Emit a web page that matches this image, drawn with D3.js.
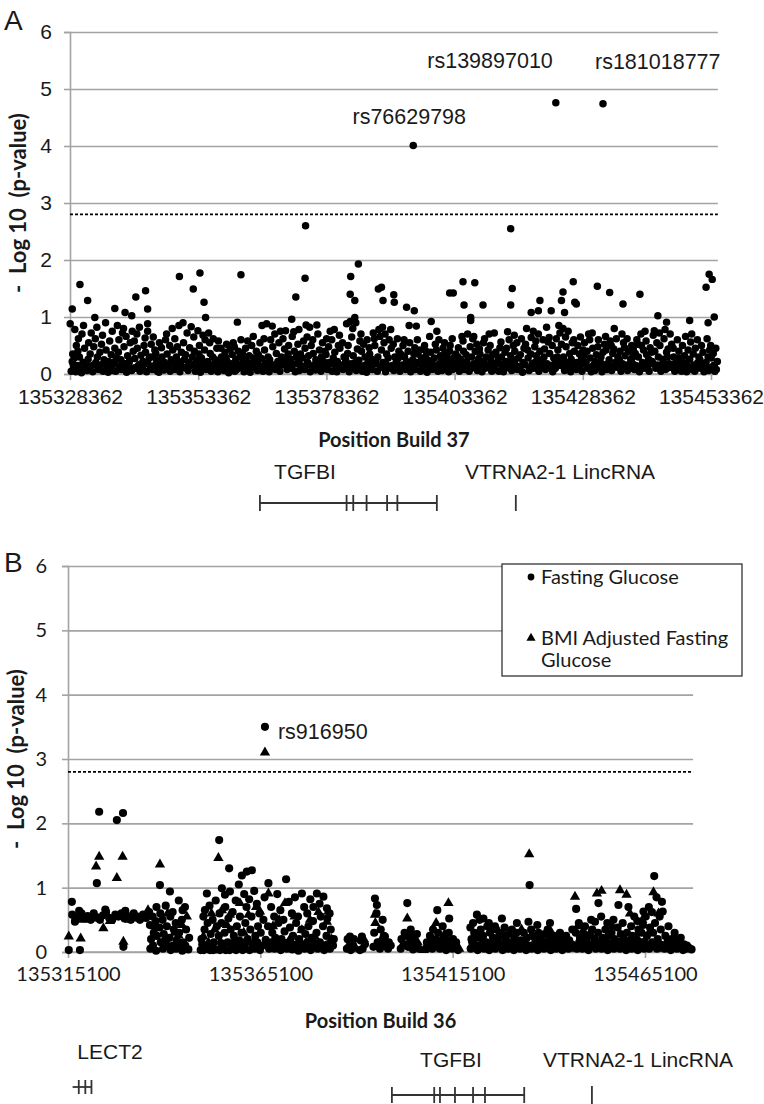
<!DOCTYPE html>
<html>
<head>
<meta charset="utf-8">
<script src="https://cdn.jsdelivr.net/npm/d3@7"></script>
<style>
  html, body { margin: 0; background: #fff; }
  #chart svg { display: block; }
</style>
</head>
<body>
<div id="chart"></div>
<script>
// ---- axis values ----
const ticksA = [135328362, 135353362, 135378362, 135403362, 135428362, 135453362];
const ticksB = [135315100, 135365100, 135415100, 135465100];
const yTicks = [0, 1, 2, 3, 4, 5, 6];
const thresholdLogP = 2.8;
const axisEndA = 135454700;
const axisEndB = 135477600;

// ---- panel A: [position (kb), -log10 p] ----
const snpsA = [
  [135328.6,0.05],[135328.8,0.22],[135328.4,0.88],[135328.9,0.35],[135329.1,0.12],
  [135329.3,0.78],[135329.5,0.04],[135329.2,0.28],[135329.6,0.5],[135329.8,0.15],[135330.0,0.62],[135329.9,0.4],
  [135330.3,1.57],[135330.4,0.08],[135330.2,0.3],[135330.7,0.7],[135330.9,0.2],[135330.6,0.02],
  [135331.2,0.45],[135331.4,0.1],[135331.0,0.85],[135331.8,1.29],[135331.9,0.26],[135331.7,0.06],[135332.0,0.55],
  [135332.3,0.35],[135332.5,0.72],[135332.2,0.14],[135332.8,0.04],[135333.0,0.48],
  [135333.2,0.99],[135333.4,0.2],[135333.3,0.62],[135333.7,0.3],[135333.9,0.08],[135333.6,0.82],
  [135334.3,0.16],[135334.5,0.52],[135334.2,0.38],[135334.8,0.05],[135335.0,0.25],[135334.7,0.68],
  [135335.4,0.42],[135335.6,0.12],[135335.3,0.9],[135335.9,0.22],[135336.1,0.58],[135335.8,0.03],
  [135336.4,0.34],[135336.6,0.75],[135336.3,0.1],[135336.9,0.18],[135337.1,0.45],[135336.8,0.06],
  [135328.8,1.14],[135337.1,1.15],
  [135337.4,0.28],[135337.6,0.85],[135337.3,0.05],[135337.9,0.6],[135338.1,0.14],[135337.8,0.38],
  [135338.4,0.08],[135338.6,0.72],[135338.3,0.25],[135338.9,0.48],[135339.1,0.18],[135338.8,0.8],
  [135339.4,0.03],[135339.6,0.32],[135339.3,0.66],[135339.9,0.2],[135340.1,0.55],[135339.8,0.12],
  [135340.5,0.75],[135340.7,0.4],[135340.4,0.06],[135341.0,0.27],[135341.2,0.1],[135340.9,0.58],
  [135341.5,0.45],[135341.7,0.15],[135341.4,0.7],[135342.0,0.05],[135342.2,0.33],[135341.9,0.82],
  [135342.6,0.22],[135342.8,0.5],[135342.5,0.1],[135343.1,0.38],[135343.3,0.04],[135343.0,0.63],
  [135343.6,0.18],[135343.8,0.28],[135343.5,0.75],[135344.2,0.52],[135344.4,0.08],[135344.1,0.3],
  [135344.7,0.12],[135344.9,0.42],[135344.6,0.65],[135345.2,0.25],[135345.4,0.05],[135345.1,0.36],
  [135345.8,0.55],[135346.0,0.16],[135345.7,0.03],[135346.3,0.3],[135346.5,0.1],[135346.2,0.46],
  [135346.8,0.2],[135347.0,0.6],[135346.7,0.07],
  [135339.1,1.08],[135340.4,1.02],[135341.2,1.35],[135343.1,1.46],[135343.5,1.14],[135343.5,0.88],
  [135347.3,0.35],[135347.5,0.12],[135347.2,0.7],[135347.9,0.05],[135348.1,0.25],[135347.8,0.5],
  [135348.4,0.42],[135348.6,0.18],[135348.3,0.8],[135348.9,0.08],[135349.1,0.3],[135348.8,0.62],
  [135349.4,0.22],[135349.6,0.85],[135349.3,0.48],[135349.9,0.14],[135350.1,0.38],[135349.8,0.04],
  [135350.5,0.55],[135350.7,0.26],[135350.4,0.9],[135351.0,0.1],[135351.2,0.72],[135350.9,0.34],
  [135351.5,0.2],[135351.7,0.46],[135351.4,0.06],[135352.0,0.83],[135352.2,0.3],[135351.9,0.15],
  [135352.6,0.4],[135352.8,0.05],[135352.5,0.65],[135353.1,0.24],[135353.3,0.76],[135353.0,0.12],
  [135353.6,0.5],[135353.8,0.03],[135353.5,0.35],[135354.1,0.17],[135354.3,0.68],[135354.0,0.28],
  [135354.7,0.6],[135354.9,0.08],[135354.6,0.42],[135355.2,0.22],[135355.4,0.72],[135355.1,0.12],
  [135355.7,0.36],[135355.9,0.05],[135355.6,0.55],[135356.3,0.62],[135356.5,0.18],[135356.2,0.3],
  [135356.8,0.1],[135357.0,0.45],[135356.7,0.25],
  [135349.7,1.71],[135352.4,1.49],[135353.7,1.77],[135354.5,1.26],[135354.8,0.99],
  [135357.3,0.58],[135357.5,0.2],[135357.2,0.04],[135357.9,0.3],[135358.1,0.12],[135357.8,0.45],
  [135358.4,0.06],[135358.6,0.38],[135358.3,0.22],[135358.9,0.52],[135359.1,0.15],[135358.8,0.28],
  [135359.4,0.1],[135359.6,0.44],[135359.3,0.02],[135360.0,0.34],[135360.2,0.55],[135359.9,0.18],
  [135360.5,0.05],[135360.7,0.26],[135360.4,0.48],[135361.0,0.15],[135361.2,0.4],[135360.9,0.08],
  [135361.5,0.3],[135361.7,0.6],[135361.4,0.12],[135362.1,0.2],[135362.3,0.04],[135362.0,0.36],
  [135362.6,0.45],[135362.8,0.1],[135362.5,0.25],[135363.1,0.08],[135363.3,0.32],[135363.0,0.58],
  [135363.6,0.18],[135363.8,0.5],[135363.5,0.03],[135364.2,0.28],[135364.4,0.12],[135364.1,0.66],
  [135364.7,0.4],[135364.9,0.06],[135364.6,0.22],[135365.2,0.15],[135365.4,0.55],[135365.1,0.34],
  [135365.8,0.85],[135366.0,0.05],[135365.7,0.27],[135366.3,0.42],[135366.5,0.18],[135366.2,0.62],
  [135366.8,0.1],[135367.0,0.3],[135366.7,0.88],
  [135361.0,0.91],[135361.7,1.74],
  [135367.3,0.25],[135367.5,0.6],[135367.2,0.04],[135367.9,0.48],[135368.1,0.14],[135367.8,0.84],
  [135368.4,0.08],[135368.6,0.36],[135368.3,0.7],[135368.9,0.22],[135369.1,0.55],[135368.8,0.12],
  [135369.4,0.75],[135369.6,0.3],[135369.3,0.05],[135370.0,0.16],[135370.2,0.44],[135369.9,0.62],
  [135370.5,0.28],[135370.7,0.08],[135370.4,0.76],[135371.0,0.5],[135371.2,0.2],[135370.9,0.35],
  [135371.5,0.1],[135371.7,0.66],[135371.4,0.26],[135372.1,0.4],[135372.3,0.04],[135372.0,0.74],
  [135372.6,0.18],[135372.8,0.52],[135372.5,0.3],[135373.1,0.06],[135373.3,0.35],[135373.0,0.78],
  [135373.7,0.28],[135373.9,0.58],[135373.6,0.14],[135374.2,0.45],[135374.4,0.86],[135374.1,0.08],
  [135374.7,0.2],[135374.9,0.32],[135374.6,0.65],[135375.2,0.04],[135375.4,0.5],[135375.1,0.82],
  [135375.8,0.36],[135376.0,0.16],[135375.7,0.6],[135376.3,0.25],[135376.5,0.86],[135376.2,0.07],
  [135376.8,0.12],[135377.0,0.42],[135376.7,0.7],
  [135371.6,0.96],[135372.4,1.35],[135374.2,1.68],[135374.3,2.6],
  [135377.4,0.3],[135377.6,0.55],[135377.3,0.05],[135377.9,0.15],[135378.1,0.4],[135377.8,0.22],
  [135378.4,0.62],[135378.6,0.08],[135378.3,0.34],[135378.9,0.2],[135379.1,0.75],[135378.8,0.48],
  [135379.5,0.05],[135379.7,0.28],[135379.4,0.6],[135380.0,0.38],[135380.2,0.12],[135379.9,0.78],
  [135380.5,0.22],[135380.7,0.5],[135380.4,0.04],[135381.0,0.45],[135381.2,0.16],[135380.9,0.68],
  [135381.6,0.08],[135381.8,0.3],[135381.5,0.55],[135382.1,0.26],[135382.3,0.88],[135382.0,0.14],
  [135382.6,0.5],[135382.8,0.04],[135382.5,0.36],[135383.1,0.18],[135383.3,0.65],[135383.0,0.92],
  [135383.6,0.32],[135383.8,0.1],[135383.5,0.8],[135384.2,0.06],[135384.4,0.44],[135384.1,0.9],
  [135384.7,0.24],[135384.9,0.58],[135384.6,0.15],[135385.2,0.4],[135385.4,0.05],[135385.1,0.7],
  [135385.7,0.14],[135385.9,0.3],[135385.6,0.52],[135386.3,0.6],[135386.5,0.2],[135386.2,0.03],
  [135386.8,0.35],[135387.0,0.1],[135386.7,0.46],
  [135383.0,1.4],[135383.1,1.71],[135383.9,1.29],[135383.9,0.99],[135384.6,1.93],
  [135387.3,0.08],[135387.5,0.72],[135387.2,0.26],[135387.8,0.5],[135388.0,0.18],[135387.7,0.62],
  [135388.4,0.3],[135388.6,0.78],[135388.3,0.05],[135388.9,0.12],[135389.1,0.42],[135388.8,0.66],
  [135389.4,0.2],[135389.6,0.55],[135389.3,0.82],[135389.9,0.04],[135390.1,0.35],[135389.8,0.7],
  [135390.4,0.28],[135390.6,0.6],[135390.3,0.1],[135391.0,0.45],[135391.2,0.15],[135390.9,0.78],
  [135391.5,0.06],[135391.7,0.3],[135391.4,0.52],[135392.0,0.22],[135392.2,0.62],[135391.9,0.12],
  [135392.5,0.4],[135392.7,0.05],[135392.4,0.28],[135393.1,0.16],[135393.3,0.5],[135393.0,0.34],
  [135393.6,0.3],[135393.8,0.08],[135393.5,0.6],[135394.1,0.12],[135394.3,0.4],[135394.0,0.22],
  [135394.6,0.55],[135394.8,0.04],[135394.5,0.85],[135395.2,0.25],[135395.4,0.36],[135395.1,0.14],
  [135395.7,0.08],[135395.9,0.84],[135395.6,0.46],[135396.2,0.35],[135396.4,0.18],[135396.1,0.6],
  [135396.7,0.05],[135396.9,0.28],[135396.6,0.42],
  [135388.5,1.49],[135389.1,1.52],[135389.4,1.29],[135391.5,1.39],[135391.6,1.26],[135394.0,1.17],
  [135395.3,4.01],[135395.5,1.11],
  [135397.3,0.2],[135397.5,0.5],[135397.2,0.1],[135397.8,0.4],[135398.0,0.03],[135397.7,0.3],
  [135398.3,0.15],[135398.5,0.66],[135398.2,0.24],[135398.8,0.92],[135399.0,0.08],[135398.7,0.38],
  [135399.4,0.28],[135399.6,0.52],[135399.3,0.14],[135399.9,0.75],[135400.1,0.05],[135399.8,0.42],
  [135400.4,0.18],[135400.6,0.32],[135400.3,0.6],[135400.9,0.06],[135401.1,0.45],[135400.8,0.25],
  [135401.5,0.36],[135401.7,0.12],[135401.4,0.55],[135402.0,0.22],[135402.2,0.04],[135401.9,0.3],
  [135402.5,0.5],[135402.7,0.16],[135402.4,0.4],[135403.0,0.08],[135403.2,0.28],[135402.9,0.62],
  [135403.6,0.35],[135403.8,0.1],[135403.5,0.2],[135404.1,0.46],[135404.3,0.05],[135404.0,0.3],
  [135404.6,0.14],[135404.8,0.66],[135404.5,0.26],[135405.1,0.4],[135405.3,0.08],[135405.0,0.58],
  [135405.7,0.22],[135405.9,0.7],[135405.6,0.34],[135406.2,0.05],[135406.4,0.48],[135406.1,0.15],
  [135406.7,0.3],[135406.9,0.62],[135406.6,0.1],
  [135402.4,1.42],[135403.1,1.42],[135405.0,1.62],[135405.2,1.21],[135406.5,0.99],[135406.5,0.94],
  [135407.2,0.18],[135407.4,0.4],[135407.1,0.66],[135407.8,0.06],[135408.0,0.26],[135407.7,0.52],
  [135408.3,0.35],[135408.5,0.12],[135408.2,0.44],[135408.8,0.22],[135409.0,0.55],[135408.7,0.04],
  [135409.3,0.1],[135409.5,0.3],[135409.2,0.62],[135409.9,0.42],[135410.1,0.7],[135409.8,0.16],
  [135410.4,0.26],[135410.6,0.05],[135410.3,0.5],[135410.9,0.14],[135411.1,0.72],[135410.8,0.34],
  [135411.4,0.38],[135411.6,0.2],[135411.3,0.08],[135412.0,0.05],[135412.2,0.46],[135411.9,0.28],
  [135412.5,0.3],[135412.7,0.12],[135412.4,0.56],[135413.0,0.18],[135413.2,0.38],[135412.9,0.04],
  [135413.5,0.45],[135413.7,0.74],[135413.4,0.22],[135414.1,0.1],[135414.3,0.32],[135414.0,0.6],
  [135414.6,0.26],[135414.8,0.5],[135414.5,0.06],[135415.1,0.4],[135415.3,0.15],[135415.0,0.68],
  [135415.6,0.08],[135415.8,0.28],[135415.5,0.55],[135416.2,0.34],[135416.4,0.62],[135416.1,0.12],
  [135416.7,0.2],[135416.9,0.45],[135416.6,0.03],
  [135407.3,1.6],[135408.9,1.21],[135414.3,2.55],[135414.3,1.21],[135414.6,1.5],
  [135417.2,0.52],[135417.4,0.8],[135417.1,0.16],[135417.7,0.28],[135417.9,0.06],[135417.6,0.42],
  [135418.3,0.64],[135418.5,0.18],[135418.2,0.35],[135418.8,0.1],[135419.0,0.48],[135418.7,0.75],
  [135419.3,0.32],[135419.5,0.22],[135419.2,0.58],[135419.8,0.05],[135420.0,0.4],[135419.7,0.7],
  [135420.4,0.25],[135420.6,0.6],[135420.3,0.14],[135420.9,0.44],[135421.1,0.08],[135420.8,0.3],
  [135421.4,0.18],[135421.6,0.56],[135421.3,0.82],[135421.9,0.36],[135422.1,0.12],[135421.8,0.64],
  [135422.5,0.04],[135422.7,0.28],[135422.4,0.5],[135423.0,0.22],[135423.2,0.62],[135422.9,0.1],
  [135423.5,0.42],[135423.7,0.85],[135423.4,0.3],[135424.0,0.15],[135424.2,0.52],[135423.9,0.72],
  [135424.6,0.3],[135424.8,0.06],[135424.5,0.8],[135425.1,0.48],[135425.3,0.2],[135425.0,0.65],
  [135425.6,0.1],[135425.8,0.36],[135425.5,0.75],[135426.1,0.26],[135426.3,0.55],[135426.0,0.04],
  [135426.7,0.4],[135426.9,0.14],[135426.6,0.6],
  [135418.3,1.08],[135419.7,1.11],[135420.0,1.29],[135422.2,1.11],[135423.1,4.76],[135424.2,1.29],
  [135424.5,1.44],[135424.8,1.08],[135426.5,1.62],[135426.8,1.26],[135427.1,1.23],
  [135427.2,0.2],[135427.4,0.5],[135427.1,0.08],[135427.7,0.35],[135427.9,0.65],[135427.6,0.14],
  [135428.2,0.05],[135428.4,0.42],[135428.1,0.26],[135428.7,0.55],[135428.9,0.18],[135428.6,0.32],
  [135429.3,0.1],[135429.5,0.7],[135429.2,0.4],[135429.8,0.28],[135430.0,0.04],[135429.7,0.6],
  [135430.3,0.45],[135430.5,0.16],[135430.2,0.72],[135430.8,0.22],[135431.0,0.34],[135430.7,0.06],
  [135431.4,0.6],[135431.6,0.12],[135431.3,0.48],[135431.9,0.3],[135432.1,0.04],[135431.8,0.2],
  [135432.4,0.15],[135432.6,0.52],[135432.3,0.38],[135432.9,0.42],[135433.1,0.08],[135432.8,0.66],
  [135433.5,0.25],[135433.7,0.58],[135433.4,0.12],[135434.0,0.06],[135434.2,0.36],[135433.9,0.5],
  [135434.5,0.8],[135434.7,0.2],[135434.4,0.44],[135435.0,0.12],[135435.2,0.3],[135434.9,0.62],
  [135435.6,0.4],[135435.8,0.05],[135435.5,0.24],[135436.1,0.18],[135436.3,0.55],[135436.0,0.7],
  [135436.6,0.32],[135436.8,0.1],[135436.5,0.46],
  [135431.2,1.54],[135432.3,4.74],[135433.6,1.43],[135436.2,1.23],
  [135437.1,0.06],[135437.3,0.4],[135437.0,0.62],[135437.7,0.25],[135437.9,0.5],[135437.6,0.14],
  [135438.2,0.44],[135438.4,0.08],[135438.1,0.3],[135438.7,0.15],[135438.9,0.6],[135438.6,0.36],
  [135439.2,0.3],[135439.4,0.04],[135439.1,0.52],[135439.8,0.5],[135440.0,0.2],[135439.7,0.7],
  [135440.3,0.1],[135440.5,0.75],[135440.2,0.42],[135440.8,0.34],[135441.0,0.16],[135440.7,0.58],
  [135441.3,0.05],[135441.5,0.46],[135441.2,0.26],[135441.9,0.22],[135442.1,0.68],[135441.8,0.38],
  [135442.4,0.4],[135442.6,0.1],[135442.3,0.76],[135442.9,0.16],[135443.1,0.3],[135442.8,0.55],
  [135443.4,0.5],[135443.6,0.05],[135443.3,0.72],[135444.0,0.26],[135444.2,0.62],[135443.9,0.12],
  [135444.5,0.08],[135444.7,0.38],[135444.4,0.78],[135445.0,0.44],[135445.2,0.18],[135444.9,0.3],
  [135445.5,0.12],[135445.7,0.52],[135445.4,0.7],[135446.1,0.3],[135446.3,0.05],[135446.0,0.45],
  [135446.6,0.2],[135446.8,0.6],[135446.5,0.14],
  [135439.5,1.4],[135443.0,1.02],[135444.7,0.91],
  [135447.1,0.4],[135447.3,0.08],[135447.0,0.28],[135447.6,0.05],[135447.8,0.5],[135447.5,0.18],
  [135448.2,0.32],[135448.4,0.66],[135448.1,0.1],[135448.7,0.15],[135448.9,0.42],[135448.6,0.04],
  [135449.2,0.26],[135449.4,0.56],[135449.1,0.12],[135449.7,0.08],[135449.9,0.35],[135449.6,0.7],
  [135450.3,0.45],[135450.5,0.16],[135450.2,0.05],[135450.8,0.2],[135451.0,0.3],[135450.7,0.6],
  [135451.3,0.1],[135451.5,0.5],[135451.2,0.25],[135451.8,0.38],[135452.0,0.04],[135451.7,0.14],
  [135452.4,0.2],[135452.6,0.62],[135452.3,0.08],[135452.9,0.06],[135453.1,0.42],[135452.8,0.3],
  [135453.4,0.28],[135453.6,0.1],[135453.3,0.5],[135453.9,0.15],[135454.1,0.05],[135453.8,0.36],
  [135454.4,0.08],[135454.6,0.22],[135454.3,0.45],
  [135449.2,0.94],[135453.0,1.75],[135453.6,1.66],[135452.4,1.52],[135454.0,1.0],[135452.8,0.9]
];

// panel A: extra low-significance SNPs in the dense band near zero
const lowA = [
  [135329.0,0.17],[135330.0,0.09],[135331.0,0.2],[135332.0,0.12],[135333.0,0.16],[135334.0,0.1],
  [135335.0,0.18],[135336.0,0.13],[135337.0,0.21],[135338.0,0.09],[135339.0,0.15],[135340.0,0.24],
  [135341.0,0.11],[135342.0,0.17],[135343.0,0.2],[135344.0,0.13],[135345.0,0.16],[135346.0,0.22],
  [135347.0,0.1],[135348.0,0.18],[135349.0,0.14],[135350.0,0.21],[135351.0,0.12],[135352.0,0.17],
  [135353.0,0.2],[135354.0,0.09],[135355.0,0.16],[135356.0,0.13],[135357.0,0.19],[135358.0,0.1],
  [135359.0,0.22],[135360.0,0.12],[135361.0,0.17],[135362.0,0.11],[135363.0,0.2],[135364.0,0.14],
  [135365.0,0.18],[135366.0,0.12],[135367.0,0.2],[135368.0,0.16],[135369.0,0.1],[135370.0,0.22],
  [135371.0,0.13],[135372.0,0.17],[135373.0,0.2],[135374.0,0.11],[135375.0,0.16],[135376.0,0.13],
  [135377.0,0.19],[135378.0,0.09],[135379.0,0.17],[135380.0,0.21],[135381.0,0.12],[135382.0,0.18],
  [135383.0,0.14],[135384.0,0.2],[135385.0,0.1],[135386.0,0.16],[135387.0,0.13],[135388.0,0.22],
  [135389.0,0.12],[135390.0,0.17],[135391.0,0.1],[135392.0,0.19],[135393.0,0.14],[135394.0,0.18],
  [135395.0,0.11],[135396.0,0.2],[135397.0,0.15],[135398.0,0.12],[135399.0,0.19],[135400.0,0.1],
  [135401.0,0.16],[135402.0,0.13],[135403.0,0.18],[135404.0,0.12],[135405.0,0.2],[135406.0,0.09],
  [135407.0,0.17],[135408.0,0.14],[135409.0,0.21],[135410.0,0.11],[135411.0,0.16],[135412.0,0.19],
  [135413.0,0.1],[135414.0,0.15],[135415.0,0.22],[135416.0,0.12],[135417.0,0.17],[135418.0,0.1],
  [135419.0,0.2],[135420.0,0.13],[135421.0,0.17],[135422.0,0.15],[135423.0,0.1],[135424.0,0.21],
  [135425.0,0.14],[135426.0,0.18],[135427.0,0.11],[135428.0,0.16],[135429.0,0.2],[135430.0,0.12],
  [135431.0,0.18],[135432.0,0.1],[135433.0,0.17],[135434.0,0.13],[135435.0,0.2],[135436.0,0.09],
  [135437.0,0.16],[135438.0,0.19],[135439.0,0.12],[135440.0,0.15],[135441.0,0.1],[135442.0,0.18],
  [135443.0,0.14],[135444.0,0.2],[135445.0,0.11],[135446.0,0.17],[135447.0,0.13],[135448.0,0.2],
  [135449.0,0.1],[135450.0,0.16],[135451.0,0.12],[135452.0,0.18],[135453.0,0.11],[135454.0,0.15]
];

const hitsA = [
  { name: "rs76629798", pos: 135395.3, logp: 4.01 },
  { name: "rs139897010", pos: 135423.1, logp: 4.76 },
  { name: "rs181018777", pos: 135432.3, logp: 4.74 }
];

// ---- panel B: Fasting Glucose (circles), [position (kb), -log10 p] ----
const fastingB = [
  [135316.2,0.58],[135317.0,0.5],[135317.8,0.55],[135318.6,0.6],[135319.4,0.52],[135320.2,0.56],
  [135321.0,0.5],[135321.8,0.6],[135322.6,0.54],[135323.4,0.5],[135324.2,0.57],[135325.0,0.62],
  [135325.8,0.53],[135326.6,0.5],[135327.4,0.58],[135328.2,0.55],[135329.0,0.6],[135329.8,0.52],
  [135330.6,0.56],[135331.4,0.5],[135332.2,0.6],[135333.0,0.55],[135333.8,0.5],[135334.6,0.58],
  [135335.4,0.53],[135336.2,0.62],[135318.0,0.64],[135324.8,0.66],[135330.0,0.64],
  [135316.1,0.78],[135316.9,0.47],[135315.3,0.03],[135318.2,0.03],[135322.6,1.07],[135323.2,2.18],
  [135327.8,2.05],[135329.4,2.16],[135329.5,0.08],
  [135336.5,0.05],[135336.7,0.2],[135336.4,0.42],[135337.2,0.1],[135337.4,0.3],[135337.1,0.55],
  [135338.0,0.02],[135338.2,0.25],[135337.9,0.48],[135338.1,0.7],[135339.0,1.04],[135339.2,0.15],
  [135338.9,0.38],[135339.1,0.6],[135339.8,0.05],[135340.0,0.28],[135339.7,0.5],[135340.6,0.12],
  [135340.8,0.4],[135340.5,0.72],[135341.6,0.94],[135341.8,0.03],[135341.5,0.22],[135341.7,0.55],
  [135342.4,0.1],[135342.6,0.35],[135342.3,0.62],[135343.2,0.05],[135343.4,0.18],[135343.1,0.45],
  [135344.0,0.3],[135344.2,0.08],[135343.9,0.8],[135344.8,0.02],[135345.0,0.15],[135344.7,0.5],
  [135344.9,0.65],[135345.6,0.1],[135345.8,0.35],[135345.5,0.7],[135346.4,0.04],[135346.6,0.22],
  [135349.6,0.03],[135349.8,0.2],[135350.4,0.03],[135350.6,0.35],[135350.3,0.55],[135350.7,0.65],
  [135351.2,0.91],[135351.4,0.45],[135351.1,0.1],[135352.0,0.03],[135352.2,0.28],[135351.9,0.72],
  [135352.8,0.03],[135353.0,0.15],[135352.7,0.5],[135353.6,0.04],[135353.8,0.4],[135353.5,0.8],
  [135354.4,1.74],[135354.6,0.03],[135354.3,0.25],[135354.5,0.6],[135355.1,0.99],[135355.3,0.1],
  [135355.0,0.45],[135355.9,0.89],[135356.1,0.03],[135355.8,0.3],[135356.0,0.7],[135356.6,0.15],
  [135356.8,0.52],[135357.0,1.3],[135357.1,0.03],[135357.2,0.94],[135357.4,0.35],
  [135358.0,0.08],[135358.2,0.25],[135357.9,0.62],[135358.8,0.03],[135359.0,0.4],[135358.7,0.8],
  [135359.6,0.18],[135359.8,0.55],[135359.5,1.05],[135360.3,1.19],[135360.5,0.03],[135360.2,0.3],
  [135361.0,0.1],[135361.2,0.45],[135360.9,0.9],[135361.6,1.25],[135361.8,0.2],[135361.5,0.7],
  [135362.3,0.03],[135362.5,0.35],[135362.2,0.82],[135362.9,1.27],[135363.1,0.12],[135362.8,0.55],
  [135363.6,0.05],[135363.8,0.25],[135363.5,0.95],[135364.3,0.15],[135364.5,0.4],[135364.2,0.75],
  [135365.0,0.03],[135365.2,0.3],[135364.9,0.6],[135365.7,0.1],[135365.9,0.5],
  [135366.3,3.5],[135366.5,0.19],[135366.2,0.85],[135367.2,1.07],[135367.4,0.05],[135367.1,0.4],
  [135368.0,0.15],[135368.2,0.3],[135367.9,0.7],[135368.8,0.05],[135369.0,0.22],[135368.7,0.55],
  [135369.6,0.12],[135369.8,0.45],[135369.5,0.9],[135370.4,0.03],[135370.6,0.2],[135370.3,0.65],
  [135371.2,0.1],[135371.4,0.32],[135371.1,0.5],[135371.8,1.13],[135372.0,0.05],
  [135372.6,0.15],[135372.8,0.38],[135372.5,0.78],[135373.4,0.04],[135373.6,0.25],[135373.3,0.6],
  [135374.2,0.1],[135374.4,0.45],[135374.1,0.85],[135375.0,0.02],[135375.2,0.2],[135374.9,0.55],
  [135375.9,0.91],[135376.1,0.12],[135375.8,0.35],[135376.6,0.05],[135376.8,0.28],[135376.5,0.7],
  [135377.4,0.15],[135377.6,0.4],[135377.3,0.6],[135378.2,0.03],[135378.4,0.22],[135378.1,0.82],
  [135378.9,0.7],[135379.1,0.1],[135378.8,0.48],[135379.8,0.91],[135380.0,0.05],[135379.7,0.3],
  [135380.6,0.15],[135380.8,0.55],[135380.5,0.75],[135381.5,0.86],[135381.7,0.03],[135381.4,0.4],
  [135382.4,0.68],[135382.6,0.12],[135382.3,0.25],[135382.5,0.52],[135383.2,0.05],[135383.4,0.35],
  [135383.1,0.6],[135384.0,0.1],[135384.2,0.2],
  [135387.6,0.05],[135387.8,0.2],[135388.4,0.24],[135388.6,0.03],[135389.2,0.1],[135389.4,0.2],
  [135391.0,0.03],[135391.2,0.18],[135391.5,0.24],[135391.7,0.05],[135392.3,0.12],
  [135394.5,0.08],[135394.7,0.3],[135394.9,0.83],[135395.4,0.73],[135395.6,0.15],[135395.3,0.6],
  [135396.2,0.05],[135396.4,0.35],[135397.0,0.12],[135397.2,0.25],[135396.9,0.5],[135397.5,0.24],
  [135398.3,0.05],[135398.5,0.15],[135399.0,0.1],
  [135401.6,0.05],[135401.8,0.2],[135402.4,0.12],[135402.6,0.3],[135403.3,0.76],[135403.5,0.08],
  [135403.2,0.25],[135404.0,0.15],[135404.2,0.35],[135404.8,0.04],[135405.0,0.2],[135405.6,0.1],
  [135405.8,0.28],[135406.3,0.05],
  [135408.2,0.05],[135408.4,0.15],[135409.0,0.1],[135409.2,0.25],[135409.8,0.05],[135410.0,0.35],
  [135410.6,0.12],[135410.8,0.2],[135411.1,0.65],[135411.3,0.3],[135411.8,0.05],[135412.0,0.15],
  [135412.6,0.1],[135412.8,0.22],[135412.5,0.4],[135413.4,0.03],[135413.6,0.18],[135414.2,0.52],
  [135414.4,0.1],[135414.1,0.3],[135415.0,0.05],[135415.2,0.2],[135415.8,0.08],[135416.0,0.15],
  [135416.5,0.03],
  [135419.8,0.05],[135420.0,0.2],[135419.7,0.38],[135420.5,0.12],[135420.7,0.3],[135420.4,0.45],
  [135421.4,0.58],[135421.6,0.03],[135421.3,0.22],[135422.2,0.1],[135422.4,0.35],[135422.1,0.5],
  [135423.1,0.52],[135423.3,0.05],[135423.0,0.25],[135423.9,0.15],[135424.1,0.4],[135424.6,0.03],
  [135424.8,0.3],[135424.5,0.45],[135425.4,0.1],[135425.6,0.22],[135426.2,0.05],[135426.4,0.35],
  [135426.1,0.4],[135427.0,0.15],[135427.2,0.25],[135427.9,0.52],[135428.1,0.03],[135427.8,0.3],
  [135428.7,0.1],[135428.9,0.2],[135428.6,0.38],[135429.5,0.05],[135429.7,0.28],[135430.3,0.15],
  [135430.5,0.35],[135431.0,0.03],[135431.2,0.22],[135431.8,0.45],[135432.0,0.1],[135431.7,0.3],
  [135432.6,0.05],[135432.8,0.18],[135433.4,0.12],[135433.6,0.3],[135434.2,0.03],[135434.4,0.22],
  [135434.8,0.47],[135435.0,0.1],[135435.1,1.04],[135435.6,0.05],[135435.8,0.25],[135435.5,0.35],
  [135436.4,0.12],[135436.6,0.2],[135437.2,0.03],[135437.4,0.3],[135437.1,0.42],[135438.0,0.1],
  [135438.2,0.2],[135438.8,0.05],[135439.0,0.28],[135439.6,0.15],[135439.8,0.35],[135440.4,0.45],
  [135440.6,0.03],[135440.3,0.2],[135441.2,0.1],[135441.4,0.25],
  [135442.0,0.05],[135442.2,0.2],[135442.8,0.12],[135443.0,0.3],[135443.6,0.03],[135443.8,0.15],
  [135444.4,0.1],[135444.6,0.25],[135445.2,0.05],[135445.4,0.18],[135446.0,0.12],[135446.2,0.35],
  [135447.2,0.67],[135447.4,0.05],[135447.1,0.3],[135448.0,0.15],[135448.2,0.22],[135447.9,0.45],
  [135448.8,0.05],[135449.0,0.3],[135449.6,0.1],[135449.8,0.2],[135449.5,0.4],[135450.4,0.03],
  [135450.6,0.25],[135451.2,0.12],[135451.4,0.35],[135451.1,0.5],[135452.1,0.47],[135452.3,0.05],
  [135452.0,0.2],[135453.0,0.76],[135453.2,0.1],[135452.9,0.3],[135453.8,0.05],[135454.0,0.22],
  [135453.7,0.55],[135454.6,0.15],[135454.8,0.35],[135455.4,0.03],[135455.6,0.25],[135455.3,0.45],
  [135456.2,0.1],[135456.4,0.3],[135457.0,0.05],[135457.2,0.2],[135456.9,0.5],[135457.8,0.15],
  [135458.0,0.38],[135458.2,0.73],[135458.6,0.05],[135458.8,0.28],[135459.4,0.12],[135459.6,0.2],
  [135459.3,0.45],[135460.2,0.03],[135460.4,0.3],[135460.8,0.7],[135461.0,0.15],[135461.6,0.05],
  [135461.8,0.25],[135461.5,0.4],[135462.4,0.1],[135462.6,0.2],[135462.3,0.55],[135463.2,0.03],
  [135463.4,0.35],[135463.1,0.48],[135464.0,0.15],[135464.2,0.3],[135464.7,0.63],[135464.9,0.05],
  [135464.6,0.42],[135465.4,0.1],[135465.6,0.25],[135465.3,0.55],[135466.2,0.05],[135466.4,0.38],
  [135466.1,0.7],[135467.0,0.15],[135467.2,0.3],[135466.9,0.62],[135467.5,1.18],[135467.7,0.45],
  [135468.2,0.05],[135468.4,0.2],[135468.1,0.85],[135469.0,0.12],[135469.2,0.35],[135468.9,0.55],
  [135469.5,0.78],[135469.7,0.63],[135470.2,0.05],[135470.4,0.25],[135471.0,0.15],[135471.2,0.4],
  [135471.8,0.03],[135472.0,0.2],[135472.6,0.1],[135472.8,0.3],[135473.4,0.05],[135473.6,0.15],
  [135474.2,0.1],[135474.4,0.22],[135475.0,0.03],[135475.2,0.12],[135475.8,0.05],[135476.0,0.1],
  [135476.6,0.06],[135477.2,0.04]
];

// panel B: extra Fasting Glucose SNPs filling the band near zero
const lowB = [
  [135350.0,0.12],[135352.4,0.1],[135354.9,0.14],[135357.6,0.12],[135359.2,0.1],[135361.4,0.16],
  [135363.9,0.1],[135366.8,0.1],[135369.3,0.12],[135371.7,0.14],[135374.6,0.12],[135377.0,0.1],
  [135379.4,0.14],[135381.9,0.1],[135383.7,0.12],
  [135420.2,0.15],[135421.0,0.1],[135422.8,0.18],[135424.3,0.12],[135425.9,0.16],[135427.5,0.09],
  [135429.0,0.14],[135430.8,0.1],[135432.3,0.15],[135434.0,0.12],[135436.9,0.14],[135438.5,0.16],
  [135440.0,0.1],[135441.7,0.14],[135443.3,0.2],[135445.0,0.12],[135446.6,0.1],[135448.5,0.12],
  [135450.0,0.14],[135451.7,0.1],[135453.5,0.16],[135455.0,0.1],[135456.8,0.14],[135458.4,0.16],
  [135460.0,0.12],[135461.3,0.18],[135463.7,0.1],[135465.0,0.16],[135466.7,0.12],[135468.6,0.1],
  [135470.8,0.1],[135472.2,0.12],[135474.8,0.08]
];

// ---- panel B: BMI Adjusted Fasting Glucose (triangles) ----
const bmiB = [
  [135315.3,0.24],[135318.4,0.21],[135322.4,1.33],[135323.2,1.48],[135324.3,0.37],[135327.8,1.15],
  [135329.3,1.48],[135329.5,0.16],[135319.0,0.5],[135321.4,0.52],[135326.0,0.48],[135331.0,0.5],
  [135333.4,0.52],[135335.9,0.65],
  [135339.0,1.36],[135337.6,0.4],[135340.2,0.2],[135341.0,0.6],[135342.8,0.3],[135343.8,0.26],
  [135344.7,0.42],[135345.2,0.1],[135346.0,0.55],
  [135350.3,0.24],[135351.6,0.15],[135352.4,0.6],[135353.2,0.35],[135354.2,1.46],[135355.1,0.65],
  [135356.4,0.42],[135357.2,0.58],[135358.4,0.2],[135359.8,0.76],[135360.8,0.3],[135362.0,0.58],
  [135363.2,0.15],[135364.0,0.7],[135365.0,0.63],[135366.3,3.1],[135367.2,0.91],[135368.4,0.4],
  [135369.2,0.15],[135370.0,0.5],[135371.5,0.76],[135372.8,0.2],[135374.0,0.55],[135375.9,0.34],
  [135377.0,0.15],[135378.0,0.5],[135379.2,0.25],[135380.2,0.62],[135381.0,0.1],[135382.4,0.47],
  [135382.8,0.63],[135383.6,0.2],
  [135388.0,0.1],[135390.0,0.05],[135392.0,0.2],[135394.9,0.58],[135395.0,0.45],[135396.6,0.2],
  [135398.0,0.08],[135402.0,0.1],[135403.3,0.52],[135404.4,0.25],[135406.0,0.15],
  [135407.6,0.03],[135409.4,0.15],[135410.8,0.45],[135412.2,0.05],[135413.0,0.28],[135414.0,0.76],
  [135415.4,0.12],[135416.8,0.05],
  [135420.0,0.1],[135421.8,0.3],[135423.5,0.15],[135425.0,0.35],[135426.6,0.1],[135428.3,0.25],
  [135430.0,0.05],[135431.4,0.2],[135433.0,0.35],[135435.0,1.52],[135436.0,0.1],[135437.6,0.22],
  [135439.2,0.08],[135440.8,0.3],[135442.4,0.1],[135444.0,0.2],[135445.6,0.05],
  [135446.9,0.86],[135447.6,0.4],[135449.2,0.15],[135450.8,0.3],[135452.6,0.91],[135453.8,0.95],
  [135455.0,0.2],[135456.6,0.4],[135458.6,0.96],[135460.3,0.89],[135459.0,0.1],[135461.2,0.6],
  [135462.8,0.25],[135464.4,0.5],[135466.6,0.35],[135467.3,0.93],[135468.6,0.6],[135469.5,0.05],
  [135470.6,0.15],[135473.0,0.2],[135475.4,0.08]
];

const hitsB = [{ name: "rs916950", pos: 135366.3, logp: 3.5 }];

// ---- gene annotations (bp): line extent and vertical marks ----
const genesA = [
  { name: "TGFBI", start: 135365400, end: 135399900,
    marks: [135365400, 135382300, 135383600, 135386200, 135390200, 135392200, 135399900] },
  { name: "VTRNA2-1 LincRNA", start: 135415300, end: 135415300, marks: [135415300] }
];
const genesB = [
  { name: "LECT2", start: 135316300, end: 135321200, marks: [135317900, 135319600, 135321200] },
  { name: "TGFBI", start: 135399300, end: 135433700,
    marks: [135399300, 135410300, 135411800, 135415700, 135420400, 135423500, 135433700] },
  { name: "VTRNA2-1 LincRNA", start: 135451300, end: 135451300, marks: [135451300] }
];

// ---- drawing ----
const arial = "'Liberation Sans', Arial, sans-serif";
const calibri = "Lato, 'Open Sans', sans-serif";
const gridColor = "#a3a3a3";
const inkColor = "#1a1a1a";

const svg = d3.select("#chart").append("svg")
  .attr("width", 764)
  .attr("height", 1104);

function drawPanel(cfg) {
  const g = svg.append("g");
  const x = d3.scaleLinear()
    .domain([cfg.ticks[0], cfg.ticks[cfg.ticks.length - 1]])
    .range([cfg.left, cfg.lastTickX]);
  const y = d3.scaleLinear().domain([0, 6]).range([cfg.bottom, cfg.top]);
  const right = x(cfg.axisEnd);

  // horizontal gridlines
  g.append("g")
    .attr("transform", `translate(${cfg.left},0)`)
    .call(d3.axisLeft(y).tickValues(yTicks).tickSize(-(right - cfg.left)).tickFormat(""))
    .call((a) => a.select(".domain").remove())
    .call((a) => a.selectAll("line").attr("stroke", gridColor).attr("stroke-width", 1.6));

  // y axis with labels
  g.append("g")
    .attr("transform", `translate(${cfg.left},0)`)
    .call(d3.axisLeft(y).tickValues(yTicks).tickSize(6).tickPadding(cfg.yPad).tickFormat(d3.format("d")))
    .call((a) => a.select(".domain").attr("stroke", gridColor).attr("stroke-width", 1.6))
    .call((a) => a.selectAll("line").attr("stroke", gridColor).attr("stroke-width", 1.6))
    .call((a) => a.selectAll("text")
      .attr("fill", inkColor)
      .attr("font-family", cfg.tickFont)
      .attr("font-size", cfg.tickSize));

  // x axis
  g.append("g")
    .attr("transform", `translate(0,${cfg.bottom})`)
    .call(d3.axisBottom(x).tickValues(cfg.ticks).tickSize(6).tickPadding(cfg.xPad).tickFormat(d3.format("d")))
    .call((a) => a.select(".domain").attr("d", `M${cfg.left},0H${right}`)
      .attr("stroke", gridColor).attr("stroke-width", 1.6))
    .call((a) => a.selectAll("line").attr("stroke", gridColor).attr("stroke-width", 1.6))
    .call((a) => a.selectAll("text")
      .attr("fill", inkColor)
      .attr("font-family", cfg.tickFont)
      .attr("font-size", cfg.tickSize));

  // significance threshold
  g.append("line")
    .attr("x1", cfg.left)
    .attr("x2", right)
    .attr("y1", y(thresholdLogP))
    .attr("y2", y(thresholdLogP))
    .attr("stroke", "#000")
    .attr("stroke-width", 1.6)
    .attr("stroke-dasharray", "3,2");

  // points
  cfg.series.forEach((s) => {
    const sym = d3.symbol().type(s.shape).size(s.size);
    g.append("g")
      .selectAll("path")
      .data(s.data)
      .join("path")
      .attr("transform", (d) => `translate(${x(d[0] * 1000)},${y(d[1])})`)
      .attr("d", sym)
      .attr("fill", "#000");
  });

  // SNP labels
  cfg.hits.forEach((h, i) => {
    const lay = cfg.hitLayout[i];
    g.append("text")
      .attr("x", x(h.pos * 1000) + lay.dx)
      .attr("y", y(h.logp) + lay.dy)
      .attr("text-anchor", lay.anchor)
      .attr("font-family", arial)
      .attr("font-size", 21.5)
      .attr("fill", inkColor)
      .text(h.name);
  });

  // y axis title
  g.append("text")
    .attr("transform", `translate(${cfg.left - 44},${(cfg.top + cfg.bottom) / 2}) rotate(-90)`)
    .attr("text-anchor", "middle")
    .attr("font-family", calibri)
    .attr("font-weight", 700)
    .attr("font-size", 22)
    .attr("fill", inkColor)
    .style("white-space", "pre")
    .text("-  Log 10  (p-value)");

  // x axis title
  g.append("text")
    .attr("x", (cfg.left + right) / 2)
    .attr("y", cfg.titleY)
    .attr("text-anchor", "middle")
    .attr("font-family", calibri)
    .attr("font-weight", 700)
    .attr("font-size", 20)
    .attr("fill", inkColor)
    .text(cfg.title);

  // panel letter
  g.append("text")
    .attr("x", 4)
    .attr("y", cfg.letterY)
    .attr("font-family", arial)
    .attr("font-size", 28)
    .attr("fill", inkColor)
    .text(cfg.letter);

  // gene track
  cfg.genes.forEach((gene, i) => {
    const lay = cfg.geneLayout[i];
    const gy = lay.lineY;
    const gg = g.append("g").attr("stroke", "#333").attr("stroke-width", 1.8);
    if (gene.end > gene.start) {
      gg.append("line")
        .attr("x1", x(gene.start)).attr("x2", x(gene.end))
        .attr("y1", gy).attr("y2", gy);
    }
    gg.selectAll("line.mark")
      .data(gene.marks)
      .join("line")
      .attr("class", "mark")
      .attr("x1", (d) => x(d)).attr("x2", (d) => x(d))
      .attr("y1", gy - lay.half).attr("y2", gy + lay.half);
    g.append("text")
      .attr("x", lay.labelX)
      .attr("y", lay.labelY)
      .attr("text-anchor", "middle")
      .attr("font-family", arial)
      .attr("font-size", 21)
      .attr("fill", inkColor)
      .text(gene.name);
  });

  return { x, y, right };
}

drawPanel({
  letter: "A", letterY: 30,
  ticks: ticksA, axisEnd: axisEndA,
  left: 70, lastTickX: 711, top: 32, bottom: 374,
  tickFont: arial, tickSize: 21, yPad: 12, xPad: 9,
  title: "Position Build 37", titleY: 447,
  series: [{ data: snpsA.concat(lowA), shape: d3.symbolCircle, size: 44 }],
  hits: hitsA,
  hitLayout: [
    { anchor: "middle", dx: -4, dy: -21 },
    { anchor: "end", dx: -3, dy: -35 },
    { anchor: "start", dx: -8, dy: -35 }
  ],
  genes: genesA,
  geneLayout: [
    { lineY: 503, half: 8, labelX: 305, labelY: 479 },
    { lineY: 503, half: 8, labelX: 560, labelY: 479 }
  ]
});

drawPanel({
  letter: "B", letterY: 572,
  ticks: ticksB, axisEnd: axisEndB,
  left: 68, lastTickX: 645, top: 566, bottom: 952,
  tickFont: calibri, tickSize: 20, yPad: 15, xPad: 9,
  title: "Position Build 36", titleY: 1028,
  series: [
    { data: fastingB.concat(lowB), shape: d3.symbolCircle, size: 52 },
    { data: bmiB, shape: d3.symbolTriangle, size: 46 }
  ],
  hits: hitsB,
  hitLayout: [{ anchor: "start", dx: 13, dy: 12 }],
  genes: genesB,
  geneLayout: [
    { lineY: 1087, half: 7, labelX: 110, labelY: 1059 },
    { lineY: 1095, half: 8, labelX: 451, labelY: 1067 },
    { lineY: 1095, half: 9, labelX: 638, labelY: 1067 }
  ]
});

// legend for panel B
const legend = svg.append("g").attr("transform", "translate(502,564)");
legend.append("rect")
  .attr("width", 240)
  .attr("height", 112)
  .attr("fill", "#fff")
  .attr("stroke", "#222")
  .attr("stroke-width", 1.2);
const legendItems = [
  { shape: d3.symbolCircle, size: 36, lines: ["Fasting Glucose"], y: 13 },
  { shape: d3.symbolTriangle, size: 36, lines: ["BMI Adjusted Fasting", "Glucose"], y: 74 }
];
legendItems.forEach((it) => {
  legend.append("path")
    .attr("transform", `translate(29,${it.y})`)
    .attr("d", d3.symbol().type(it.shape).size(it.size))
    .attr("fill", "#000");
  it.lines.forEach((ln, k) => {
    legend.append("text")
      .attr("x", 39)
      .attr("y", it.y + 7 + k * 22)
      .attr("font-family", calibri)
      .attr("font-size", 20)
      .attr("fill", inkColor)
      .text(ln);
  });
});
</script>
</body>
</html>
